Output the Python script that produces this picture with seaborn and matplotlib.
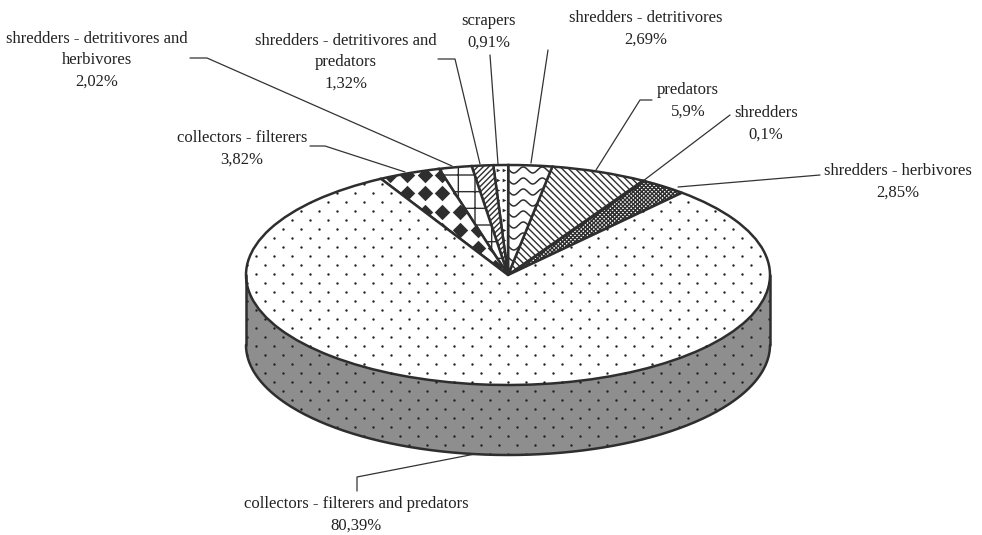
import numpy as np
import matplotlib
matplotlib.use("Agg")
import matplotlib.pyplot as plt
import seaborn as sns

# valori (%), in senso antiorario
groups = ["shredders - herbivores", "shredders", "predators", "shredders - detritivores",
          "scrapers", "shredders - detritivores and\npredators",
          "shredders - detritivores and\nherbivores", "collectors - filterers",
          "collectors - filterers and predators"]
shares = [2.85, 0.1, 5.9, 2.69, 0.91, 1.32, 2.02, 3.82, 80.39]
share_labels = ["2,85%", "0,1%", "5,9%", "2,69%", "0,91%", "1,32%", "2,02%", "3,82%", "80,39%"]
hatches = ["xxxxxxxx", None, "\\\\\\\\\\", None, None, "//////", "+", None, None]

CX, CY, RX, RY, DEPTH = 508, 275, 262, 110, 70
INK = "#2e2e2e"

sns.set_theme(style="white")
plt.rcParams["font.family"] = ["Liberation Serif", "DejaVu Serif"]
plt.rcParams["hatch.linewidth"] = 1.0


def dx(x):
    return (np.asarray(x, dtype=float) - CX) / RX


def dy(y):
    return (CY - np.asarray(y, dtype=float)) / RY


fig = plt.figure(figsize=(9.82, 5.35), dpi=100)
ax = fig.add_axes([0, 0, 1, 1])

# parete laterale
t = np.linspace(np.pi, 2 * np.pi, 300)
side = ax.fill_between(np.cos(t), np.sin(t), np.sin(t) - DEPTH / RY,
                       color="#8e8e8e", lw=0, zorder=1)
ax.plot(np.cos(t), np.sin(t) - DEPTH / RY, color=INK, lw=1.8, zorder=3)
ax.plot([-1, -1], [0, -DEPTH / RY], color=INK, lw=1.8, zorder=3)
ax.plot([1, 1], [0, -DEPTH / RY], color=INK, lw=1.8, zorder=3)

wedges, _ = ax.pie(shares, startangle=48.4, counterclock=True, radius=1,
                   colors=["white"] * len(shares),
                   wedgeprops={"edgecolor": INK, "linewidth": 1.8, "zorder": 2})
for w, h in zip(wedges, hatches):
    if h:
        w.set_hatch(h)

ax.set_aspect("auto")
ax.set_xlim(dx(0), dx(982))
ax.set_ylim(dy(535), dy(0))

# puntini della fetta grande e della parete
rows = np.arange(0, 535, 9)
xs, ys = [], []
for i, r in enumerate(rows):
    cols = np.arange(4 + (i % 2) * 9, 982, 18)
    xs.extend(cols)
    ys.extend([r + 4] * len(cols))
xs, ys = dx(xs), dy(ys)
dots = ax.scatter(xs, ys, s=3, color="#222222", lw=0, zorder=2.5)
dots.set_clip_path(wedges[8])
dots = ax.scatter(xs, ys, s=3, color="#222222", lw=0, zorder=2.5)
dots.set_clip_path(side.get_paths()[0], ax.transData)

# rombi (collectors - filterers)
gx, gy = np.meshgrid(np.arange(372, 520, 17.6), np.arange(175, 280, 18.3))
diam = ax.scatter(dx(gx.ravel()), dy(gy.ravel()), marker="D", s=62, color=INK, lw=0, zorder=2.5)
diam.set_clip_path(wedges[7])

# onde (shredders - detritivores)
wx = np.linspace(490, 570, 400)
for wy in np.arange(170, 280, 11):
    ln, = ax.plot(dx(wx), dy(wy + 3 * np.sin((wx - 490) * 2 * np.pi / 19)),
                  color=INK, lw=1.1, zorder=2.5)
    ln.set_clip_path(wedges[3])

# trattini (scrapers)
sx, sy = np.meshgrid(np.arange(486, 510, 6), np.arange(170, 280, 10))
marks = ax.scatter(dx(sx.ravel()), dy(sy.ravel()), marker=">", s=7, color=INK, lw=0, zorder=2.5)
marks.set_clip_path(wedges[4])

# etichette
label_pos = [(898, 182), (766, 124), (688, 101), (646, 29), (489, 32),
             (346, 62), (97, 60), (242, 149), (356, 515)]
for name, val, (x, y) in zip(groups, share_labels, label_pos):
    ax.text(dx(x), dy(y), f"{name}\n{val}", ha="center", va="center",
            fontsize=12, color="#222222", linespacing=1.45)

# linee guida
leaders = [([678, 820], [187, 175]),
           ([643, 730], [181, 115]),
           ([596, 640, 652], [170, 100, 100]),
           ([531, 548], [163, 50]),
           ([498, 490], [164, 55]),
           ([480, 455, 438], [164, 59, 59]),
           ([452, 207, 190], [166, 58, 58]),
           ([405, 325, 310], [172, 146, 146]),
           ([475, 357, 357], [454, 477, 491])]
for lx, ly in leaders:
    ax.plot(dx(lx), dy(ly), color="#333333", lw=0.9, zorder=4)

fig.savefig("out.png", dpi=100, facecolor="white")
